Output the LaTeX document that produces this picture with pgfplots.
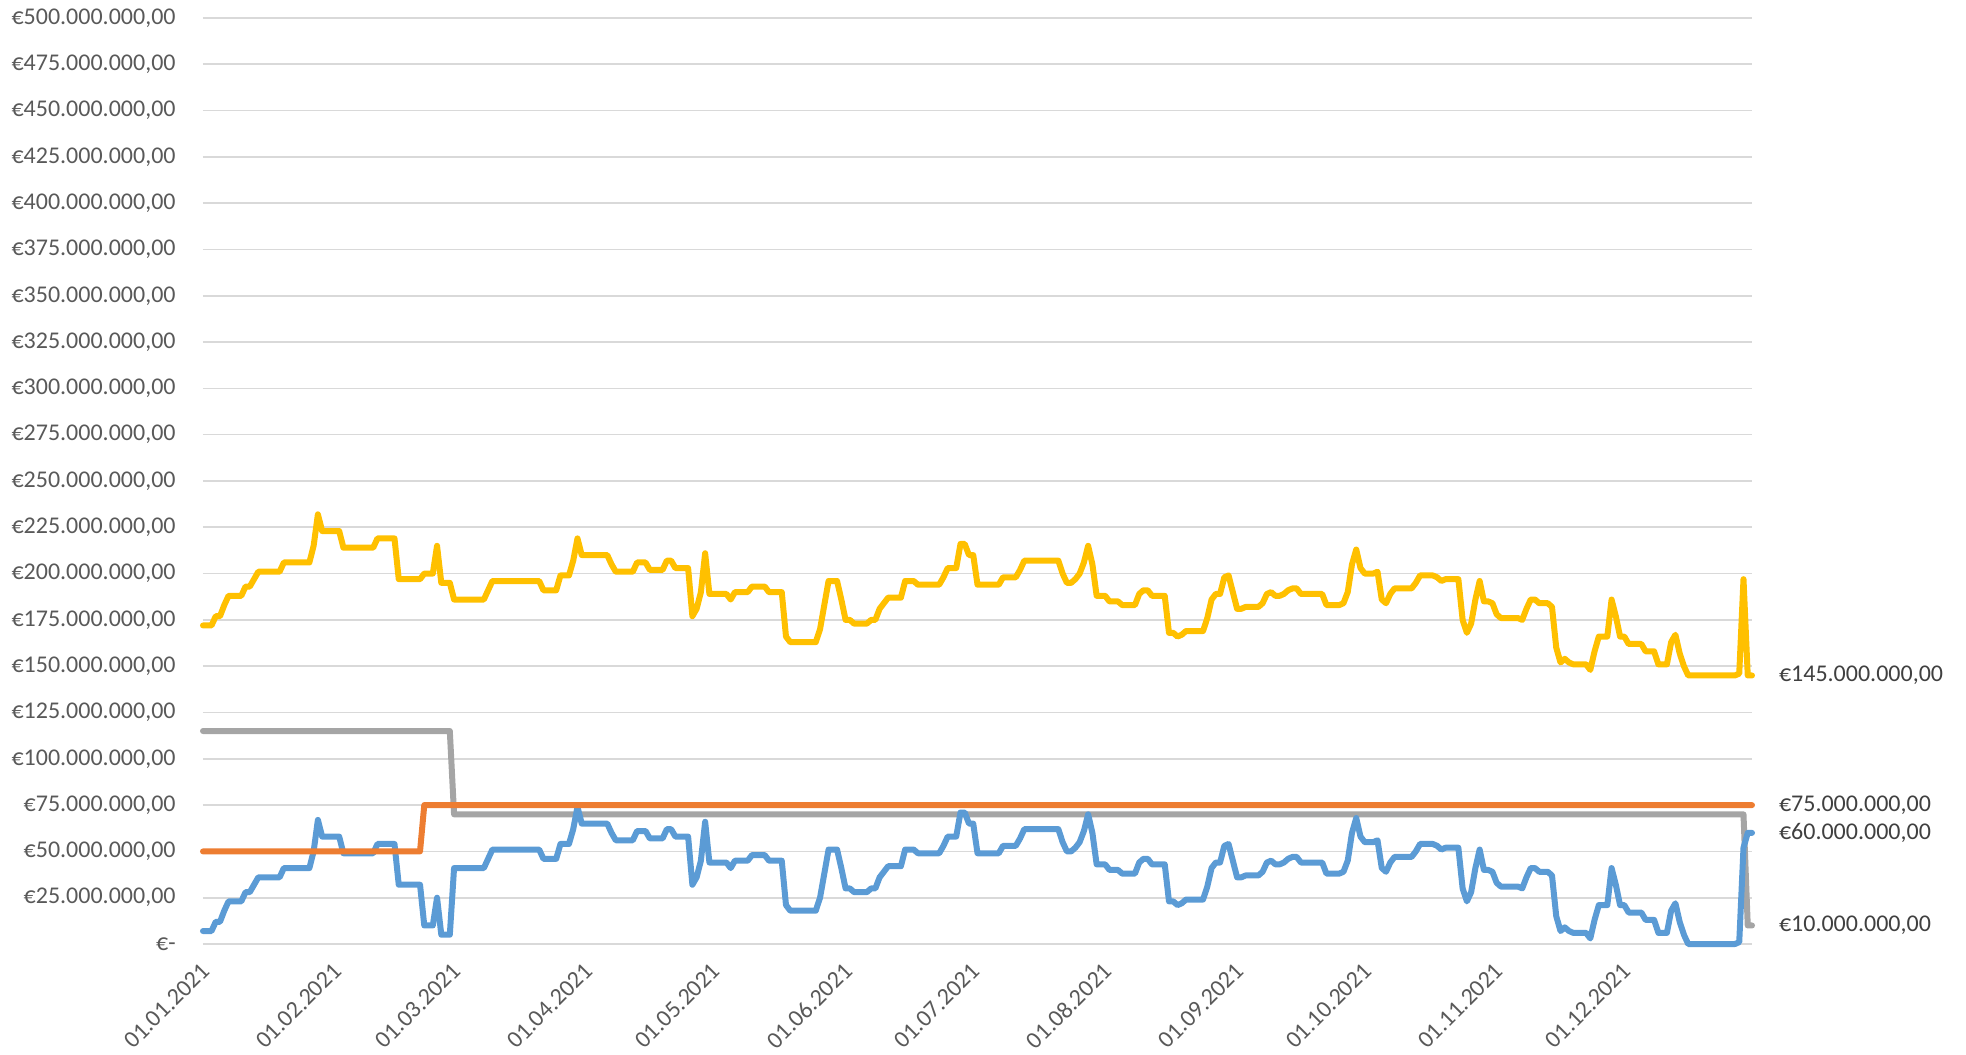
\documentclass[border=0pt]{standalone}
\usepackage{pgfplots}
\pgfplotsset{compat=1.18}
\usepackage{pgfplotstable}
\usepackage{fontspec}
\setmainfont{Carlito}
\definecolor{cblue}{HTML}{5B9BD5}
\definecolor{corange}{HTML}{ED7D31}
\definecolor{cgray}{HTML}{A5A5A5}
\definecolor{cyellow}{HTML}{FFC000}
\definecolor{cgrid}{HTML}{D9D9D9}
\definecolor{ctick}{HTML}{595959}
\definecolor{clabel}{HTML}{404040}

\pgfplotstableread[row sep=\\]{
d b y\\
0 7 172\\ 1 7 172\\ 2 7 172\\ 3 12 177\\ 4 12 177\\ 5 18 183\\ 6 23 188\\ 7 23 188\\ 8 23 188\\ 9 23 188\\
10 28 193\\ 11 28 193\\ 12 32 197\\ 13 36 201\\ 14 36 201\\ 15 36 201\\ 16 36 201\\ 17 36 201\\ 18 36 201\\ 19 41 206\\
20 41 206\\ 21 41 206\\ 22 41 206\\ 23 41 206\\ 24 41 206\\ 25 41 206\\ 26 50 215\\ 27 67 232\\ 28 58 223\\ 29 58 223\\
30 58 223\\ 31 58 223\\ 32 58 223\\ 33 49 214\\ 34 49 214\\ 35 49 214\\ 36 49 214\\ 37 49 214\\ 38 49 214\\ 39 49 214\\
40 49 214\\ 41 54 219\\ 42 54 219\\ 43 54 219\\ 44 54 219\\ 45 54 219\\ 46 32 197\\ 47 32 197\\ 48 32 197\\ 49 32 197\\
50 32 197\\ 51 32 197\\ 52 10 200\\ 53 10 200\\ 54 10 200\\ 55 25 215\\ 56 5 195\\ 57 5 195\\ 58 5 195\\ 59 41 186\\
60 41 186\\ 61 41 186\\ 62 41 186\\ 63 41 186\\ 64 41 186\\ 65 41 186\\ 66 41 186\\ 67 46 191\\ 68 51 196\\ 69 51 196\\
70 51 196\\ 71 51 196\\ 72 51 196\\ 73 51 196\\ 74 51 196\\ 75 51 196\\ 76 51 196\\ 77 51 196\\ 78 51 196\\ 79 51 196\\
80 46 191\\ 81 46 191\\ 82 46 191\\ 83 46 191\\ 84 54 199\\ 85 54 199\\ 86 54 199\\ 87 62 207\\ 88 74 219\\ 89 65 210\\
90 65 210\\ 91 65 210\\ 92 65 210\\ 93 65 210\\ 94 65 210\\ 95 65 210\\ 96 60 205\\ 97 56 201\\ 98 56 201\\ 99 56 201\\
100 56 201\\ 101 56 201\\ 102 61 206\\ 103 61 206\\ 104 61 206\\ 105 57 202\\ 106 57 202\\ 107 57 202\\ 108 57 202\\ 109 62 207\\
110 62 207\\ 111 58 203\\ 112 58 203\\ 113 58 203\\ 114 58 203\\ 115 32 177\\ 116 36 181\\ 117 45 190\\ 118 66 211\\ 119 44 189\\
120 44 189\\ 121 44 189\\ 122 44 189\\ 123 44 189\\ 124 41 186\\ 125 45 190\\ 126 45 190\\ 127 45 190\\ 128 45 190\\ 129 48 193\\
130 48 193\\ 131 48 193\\ 132 48 193\\ 133 45 190\\ 134 45 190\\ 135 45 190\\ 136 45 190\\ 137 21 166\\ 138 18 163\\ 139 18 163\\
140 18 163\\ 141 18 163\\ 142 18 163\\ 143 18 163\\ 144 18 163\\ 145 25 170\\ 146 38 183\\ 147 51 196\\ 148 51 196\\ 149 51 196\\
150 41 186\\ 151 30 175\\ 152 30 175\\ 153 28 173\\ 154 28 173\\ 155 28 173\\ 156 28 173\\ 157 30 175\\ 158 30 175\\ 159 36 181\\
160 39 184\\ 161 42 187\\ 162 42 187\\ 163 42 187\\ 164 42 187\\ 165 51 196\\ 166 51 196\\ 167 51 196\\ 168 49 194\\ 169 49 194\\
170 49 194\\ 171 49 194\\ 172 49 194\\ 173 49 194\\ 174 53 198\\ 175 58 203\\ 176 58 203\\ 177 58 203\\ 178 71 216\\ 179 71 216\\
180 65 210\\ 181 65 210\\ 182 49 194\\ 183 49 194\\ 184 49 194\\ 185 49 194\\ 186 49 194\\ 187 49 194\\ 188 53 198\\ 189 53 198\\
190 53 198\\ 191 53 198\\ 192 57 202\\ 193 62 207\\ 194 62 207\\ 195 62 207\\ 196 62 207\\ 197 62 207\\ 198 62 207\\ 199 62 207\\
200 62 207\\ 201 62 207\\ 202 55 200\\ 203 50 195\\ 204 50 195\\ 205 52 197\\ 206 55 200\\ 207 61 206\\ 208 70 215\\ 209 60 205\\
210 43 188\\ 211 43 188\\ 212 43 188\\ 213 40 185\\ 214 40 185\\ 215 40 185\\ 216 38 183\\ 217 38 183\\ 218 38 183\\ 219 38 183\\
220 44 189\\ 221 46 191\\ 222 46 191\\ 223 43 188\\ 224 43 188\\ 225 43 188\\ 226 43 188\\ 227 23 168\\ 228 23 168\\ 229 21 166\\
230 22 167\\ 231 24 169\\ 232 24 169\\ 233 24 169\\ 234 24 169\\ 235 24 169\\ 236 31 176\\ 237 41 186\\ 238 44 189\\ 239 44 189\\
240 53 198\\ 241 54 199\\ 242 45 190\\ 243 36 181\\ 244 36 181\\ 245 37 182\\ 246 37 182\\ 247 37 182\\ 248 37 182\\ 249 39 184\\
250 44 189\\ 251 45 190\\ 252 43 188\\ 253 43 188\\ 254 44 189\\ 255 46 191\\ 256 47 192\\ 257 47 192\\ 258 44 189\\ 259 44 189\\
260 44 189\\ 261 44 189\\ 262 44 189\\ 263 44 189\\ 264 38 183\\ 265 38 183\\ 266 38 183\\ 267 38 183\\ 268 39 184\\ 269 45 190\\
270 60 205\\ 271 68 213\\ 272 58 203\\ 273 55 200\\ 274 55 200\\ 275 55 200\\ 276 56 201\\ 277 41 186\\ 278 39 184\\ 279 44 189\\
280 47 192\\ 281 47 192\\ 282 47 192\\ 283 47 192\\ 284 47 192\\ 285 50 195\\ 286 54 199\\ 287 54 199\\ 288 54 199\\ 289 54 199\\
290 53 198\\ 291 51 196\\ 292 52 197\\ 293 52 197\\ 294 52 197\\ 295 52 197\\ 296 30 175\\ 297 23 168\\ 298 28 173\\ 299 41 186\\
300 51 196\\ 301 40 185\\ 302 40 185\\ 303 39 184\\ 304 33 178\\ 305 31 176\\ 306 31 176\\ 307 31 176\\ 308 31 176\\ 309 31 176\\
310 30 175\\ 311 36 181\\ 312 41 186\\ 313 41 186\\ 314 39 184\\ 315 39 184\\ 316 39 184\\ 317 37 182\\ 318 15 160\\ 319 7 152\\
320 9 154\\ 321 7 152\\ 322 6 151\\ 323 6 151\\ 324 6 151\\ 325 6 151\\ 326 3 148\\ 327 13 158\\ 328 21 166\\ 329 21 166\\
330 21 166\\ 331 41 186\\ 332 32 177\\ 333 21 166\\ 334 21 166\\ 335 17 162\\ 336 17 162\\ 337 17 162\\ 338 17 162\\ 339 13 158\\
340 13 158\\ 341 13 158\\ 342 6 151\\ 343 6 151\\ 344 6 151\\ 345 18 163\\ 346 22 167\\ 347 12 157\\ 348 5 150\\ 349 0 145\\
350 0 145\\ 351 0 145\\ 352 0 145\\ 353 0 145\\ 354 0 145\\ 355 0 145\\ 356 0 145\\ 357 0 145\\ 358 0 145\\ 359 0 145\\
360 0 145\\ 361 1 146\\ 362 52 197\\ 363 60 145\\ 364 60 145\\
}\mydata

\begin{document}
\begin{tikzpicture}
\begin{axis}[
  name=ax,
  scale only axis,
  width=774.5pt, height=463pt,
  xmin=0, xmax=364, ymin=0, ymax=500,
  clip=false,
  axis line style={draw=none},
  tick style={draw=none},
  ymajorgrids,
  grid style={line width=0.8pt, color=cgrid},
  ytick={0,25,...,500},
  yticklabels={{€-\hspace{5.5pt}},{€25.000.000,00},{€50.000.000,00},{€75.000.000,00},{€100.000.000,00},{€125.000.000,00},{€150.000.000,00},{€175.000.000,00},{€200.000.000,00},{€225.000.000,00},{€250.000.000,00},{€275.000.000,00},{€300.000.000,00},{€325.000.000,00},{€350.000.000,00},{€375.000.000,00},{€400.000.000,00},{€425.000.000,00},{€450.000.000,00},{€475.000.000,00},{€500.000.000,00}},
  xtick={0,31,59,90,120,151,181,212,243,273,304,334},
  xticklabels={01.01.2021,01.02.2021,01.03.2021,01.04.2021,01.05.2021,01.06.2021,01.07.2021,01.08.2021,01.09.2021,01.10.2021,01.11.2021,01.12.2021},
  yticklabel style={anchor=east, inner sep=0pt, xshift=-13.5pt, font=\fontsize{12}{14}\selectfont, text=ctick},
  xticklabel style={rotate=45, anchor=east, inner sep=0pt, xshift=-7.1pt, yshift=-9pt, font=\fontsize{12}{14}\selectfont, text=ctick},
  every axis plot/.append style={line width=3pt, line join=round, line cap=round},
]
\addplot[cgray] coordinates {(0,115) (58,115) (59,70) (362,70) (363,10) (364,10)}
  node[pos=1, anchor=west, inner sep=0pt, xshift=12pt, text=clabel, font=\fontsize{12}{14}\selectfont] {€10.000.000,00};
\addplot[cblue] table[x=d, y=b] {\mydata}
  node[pos=1, anchor=west, inner sep=0pt, xshift=12pt, text=clabel, font=\fontsize{12}{14}\selectfont] {€60.000.000,00};
\addplot[corange] coordinates {(0,50) (51,50) (52,75) (364,75)}
  node[pos=1, anchor=west, inner sep=0pt, xshift=12pt, text=clabel, font=\fontsize{12}{14}\selectfont] {€75.000.000,00};
\addplot[cyellow] table[x=d, y=y] {\mydata}
  node[pos=1, anchor=west, inner sep=0pt, xshift=12pt, text=clabel, font=\fontsize{12}{14}\selectfont] {€145.000.000,00};
\end{axis}
\pgfresetboundingbox
\path[use as bounding box] (ax.south west) ++(-101.5pt,-55.5pt) rectangle ([shift={(107pt,9pt)}]ax.north east);
\end{tikzpicture}
\end{document}
